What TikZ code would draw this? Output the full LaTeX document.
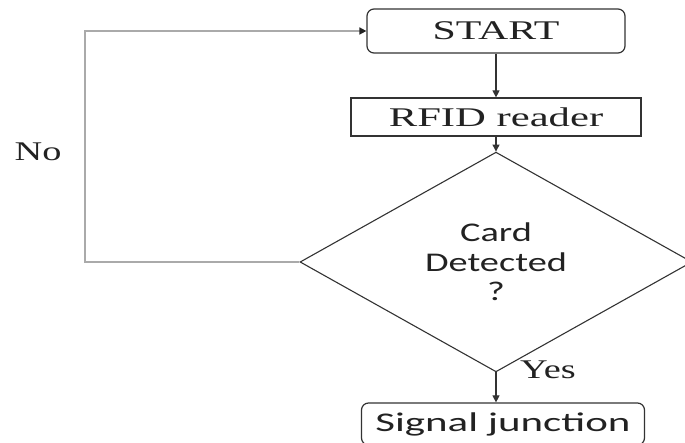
\documentclass[tikz,border=0pt]{standalone}
\usepackage{fontspec}
\setmainfont{Liberation Serif}
\newfontfamily\serifw{Liberation Serif}
\newfontfamily\sansw{Carlito}
\newcommand\wtext[2][1.42]{\scalebox{#1}[1]{#2}}
\usetikzlibrary{shapes.geometric,arrows.meta}
\definecolor{ink}{HTML}{222222}
\definecolor{edge}{HTML}{333333}
\definecolor{loopc}{HTML}{AAAAAA}
\begin{document}
\begin{tikzpicture}[x=1pt,y=-1pt,
  box/.style={draw=edge,line width=1.2pt,inner sep=0pt,text=ink},
  roundbox/.style={box,rounded corners=7pt},
  decide/.style={draw=edge,line width=1.1pt,shape=diamond,inner sep=0pt,text=ink,align=center},
  serift/.style={font=\serifw\fontsize{27}{30}\selectfont,text=ink},
  sanst/.style={font=\sansw\fontsize{27}{29.5}\selectfont},
  flow/.style={draw=edge,line width=1.1pt,-{Triangle[length=7pt,width=7pt]}},
  back/.style={draw=loopc,line width=1.5pt,-{Triangle[length=7pt,width=7pt,color=ink]}}]
\useasboundingbox (0,0) rectangle (685,443);
\node[roundbox,serift,minimum width=258pt,minimum height=44pt] (start) at (496,31) {\wtext[1.55]{START}\hspace{24pt}};
\node[box,serift,minimum width=290pt,minimum height=38pt] (rfid) at (496,117) {\wtext[1.58]{RFID reader}};
\node[decide,sanst,minimum width=392pt,minimum height=144pt] (dec) at (496,262) {\wtext{Card}\\\wtext{Detected}\\\wtext{?}};
\node[roundbox,sanst,minimum width=283pt,minimum height=42pt] (sig) at (503,424) {\wtext[1.59]{Signal junction}\hspace{13pt}};
\node[serift] (yes) at (548,370) {\wtext{Yes}};
\node[serift] (no) at (38,152) {\wtext{No}};
\coordinate (c1) at (85,262);
\coordinate (c2) at (85,31);
\draw[flow] (start.south) -- (rfid.north);
\draw[flow] (rfid.south) -- (dec.north);
\draw[flow] (dec.south) -- (dec.south |- sig.north);
\draw[back] (dec.west) -- (c1) -- (c2) -- (start.west);
\end{tikzpicture}
\end{document}
